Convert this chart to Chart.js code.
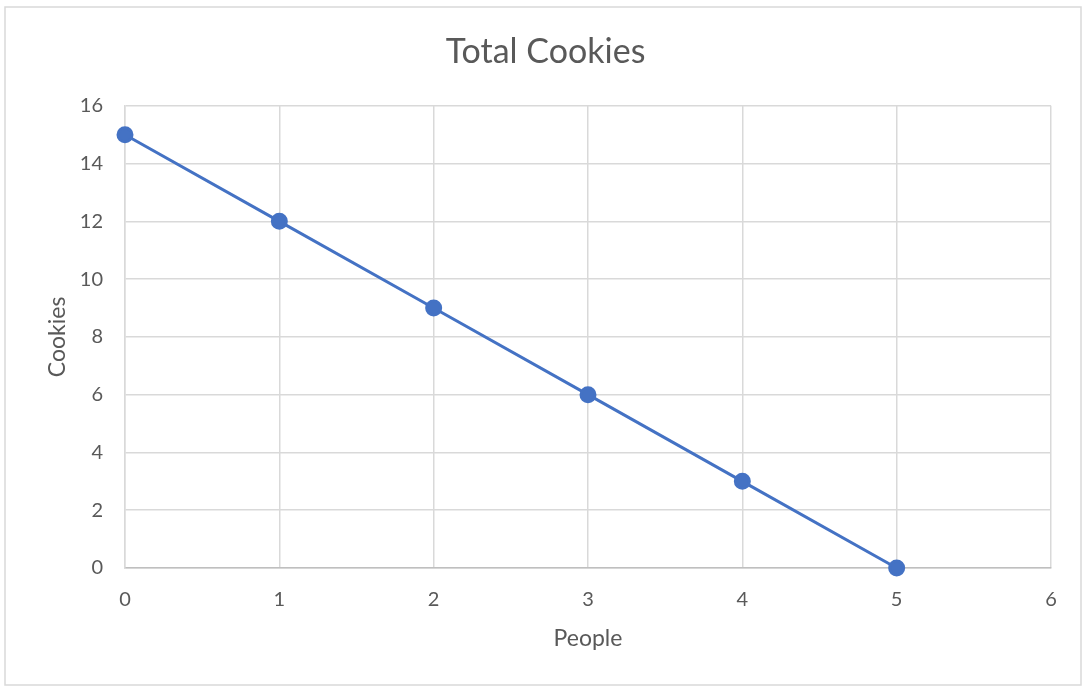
<!DOCTYPE html>
<html>
<head>
<meta charset="utf-8">
<style>
  html, body { margin: 0; padding: 0; background: #fff; }
  #wrap { width: 1086px; height: 688px; }
</style>
<script src="https://cdn.jsdelivr.net/npm/chart.js@4/dist/chart.umd.min.js"></script>
</head>
<body>
<div id="wrap"><canvas id="cookieChart" width="1086" height="688"></canvas></div>
<script>
// data
const people = [0, 1, 2, 3, 4, 5];
const cookies = [15, 12, 9, 6, 3, 0];
const xTicks = [0, 1, 2, 3, 4, 5, 6];
const yTicks = [0, 2, 4, 6, 8, 10, 12, 14, 16];

const textGray = '#595959';
const gridGray = '#d9d9d9';

// outer frame like the spreadsheet chart box
const frame = {
    id: 'frame',
    beforeDraw(chart) {
        const c = chart.ctx;
        c.save();
        c.fillStyle = '#fff';
        c.fillRect(0, 0, chart.width, chart.height);
        c.strokeStyle = gridGray;
        c.lineWidth = 1.5;
        c.strokeRect(5, 7, 1076, 678);
        c.restore();
    }
};

const ctx = document.getElementById('cookieChart').getContext('2d');
const cookieChart = new Chart(ctx, {
    type: 'line',
    data: {
        datasets: [{
            label: 'Cookies',
            data: people.map((p, i) => ({ x: p, y: cookies[i] })),
            borderColor: '#4472c4',
            backgroundColor: '#4472c4',
            borderWidth: 3,
            pointRadius: 7,
            pointHoverRadius: 7,
            tension: 0,
            clip: false
        }]
    },
    options: {
        responsive: false,
        animation: false,
        layout: { padding: { top: 0, right: 35, bottom: 20, left: 40 } },
        plugins: {
            legend: { display: false },
            tooltip: { enabled: false },
            title: {
                display: true,
                text: 'Total Cookies',
                color: textGray,
                font: { family: 'Lato', size: 34, weight: 'normal' },
                padding: { top: 32, bottom: 33 }
            }
        },
        scales: {
            x: {
                type: 'linear',
                min: 0,
                max: 6,
                afterBuildTicks: s => { s.ticks = xTicks.map(v => ({ value: v })); },
                afterFit: s => { s.height = 100; },
                grid: { color: gridGray, lineWidth: 1.5, drawTicks: false },
                border: { color: '#bfbfbf', width: 1.5 },
                ticks: {
                    color: textGray,
                    padding: 20,
                    font: { family: 'Lato', size: 20 }
                },
                title: {
                    display: true,
                    text: 'People',
                    color: textGray,
                    font: { family: 'Lato', size: 23 },
                    padding: { top: 4, bottom: 16 }
                }
            },
            y: {
                min: 0,
                max: 16,
                afterBuildTicks: s => { s.ticks = yTicks.map(v => ({ value: v })); },
                afterFit: s => { s.width = 85; },
                grid: { color: gridGray, lineWidth: 1.5, drawTicks: false },
                border: { color: gridGray, width: 1.5 },
                ticks: {
                    color: textGray,
                    padding: 22,
                    font: { family: 'Lato', size: 20 }
                },
                title: {
                    display: true,
                    text: 'Cookies',
                    color: textGray,
                    font: { family: 'Lato', size: 23 },
                    padding: { top: 4, bottom: 4 }
                }
            }
        }
    },
    plugins: [frame]
});
</script>
</body>
</html>
